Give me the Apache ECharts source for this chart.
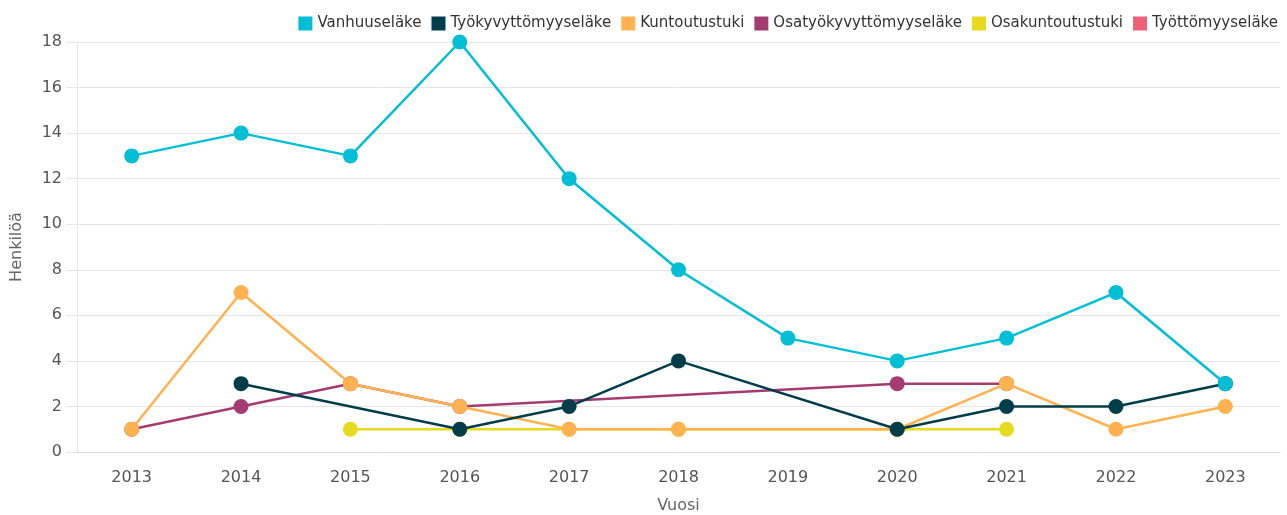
<!DOCTYPE html>
<html>
<head>
<meta charset="utf-8">
<script src="https://cdn.jsdelivr.net/npm/echarts@6/dist/echarts.min.js"></script>
<style>
  html, body { margin: 0; padding: 0; background: #fff; }
  #chart { width: 1287px; height: 515px; }
</style>
</head>
<body>
<div id="chart"></div>
<script>
const years = ['2013', '2014', '2015', '2016', '2017', '2018', '2019', '2020', '2021', '2022', '2023']

const vanhuuselake = [13, 14, 13, 18, 12, 8, 5, 4, 5, 7, 3]
const tyokyvyttomyyselake = [null, 3, null, 1, 2, 4, null, 1, 2, 2, 3]
const kuntoutustuki = [1, 7, 3, 2, 1, 1, null, 1, 3, 1, 2]
const osatyokyvyttomyyselake = [1, 2, 3, 2, null, null, null, 3, 3, null, null]
const osakuntoutustuki = [null, null, 1, 1, 1, 1, null, 1, 1, null, null]
const tyottomyyselake = [null, null, null, null, null, null, null, null, null, null, null]

const font = 'DejaVu Sans'

// sarjat: nimi, data, väri (aiemmat piirretään päällimmäisiksi)
const seriesDefs = [
  ['Vanhuuseläke', vanhuuselake, '#00bfd5'],
  ['Työkyvyttömyyseläke', tyokyvyttomyyselake, '#003d4a'],
  ['Kuntoutustuki', kuntoutustuki, '#ffb24f'],
  ['Osatyökyvyttömyyseläke', osatyokyvyttomyyselake, '#a43c72'],
  ['Osakuntoutustuki', osakuntoutustuki, '#e6da1e'],
  ['Työttömyyseläke', tyottomyyselake, '#ef6079']
]

const chart = echarts.init(document.getElementById('chart'))
chart.setOption({
  animation: false,
  textStyle: { fontFamily: font },
  legend: {
    right: 4,
    top: 11,
    itemWidth: 14,
    itemHeight: 14,
    itemGap: 10,
    icon: 'rect',
    textStyle: { fontSize: 15, color: '#333', fontFamily: font },
    data: seriesDefs.map(s => s[0])
  },
  grid: { left: 77, right: 7, top: 42, bottom: 63, containLabel: false, outerBoundsMode: 'none' },
  xAxis: {
    type: 'category',
    data: years,
    boundaryGap: true,
    name: 'Vuosi',
    nameLocation: 'middle',
    nameGap: 46,
    nameTextStyle: { fontSize: 16, color: '#666', fontFamily: font },
    axisLine: { show: true, lineStyle: { color: '#d8d8d8', width: 1 } },
    axisTick: { show: false },
    axisLabel: { fontSize: 16, color: '#555', margin: 18, fontFamily: font },
    splitLine: { show: false }
  },
  yAxis: {
    type: 'value',
    min: 0,
    max: 18,
    interval: 2,
    name: 'Henkilöä',
    nameLocation: 'middle',
    nameGap: 52,
    nameRotate: 90,
    nameTextStyle: { fontSize: 16, color: '#666', fontFamily: font },
    axisLine: { show: true, lineStyle: { color: '#e6e6e6', width: 1 } },
    axisTick: { show: true, length: 11, lineStyle: { color: '#e6e6e6' } },
    axisLabel: { fontSize: 16, color: '#555', margin: 15, fontFamily: font },
    splitLine: { lineStyle: { color: '#e6e6e6', width: 1 } }
  },
  series: seriesDefs.map((s, i) => ({
    name: s[0],
    type: 'line',
    data: s[1],
    connectNulls: true,
    z: 10 - i,
    symbol: 'circle',
    symbolSize: 15,
    showAllSymbol: true,
    lineStyle: { width: 2.5, color: s[2] },
    itemStyle: { color: s[2] },
    emphasis: { disabled: true }
  }))
})
</script>
</body>
</html>
